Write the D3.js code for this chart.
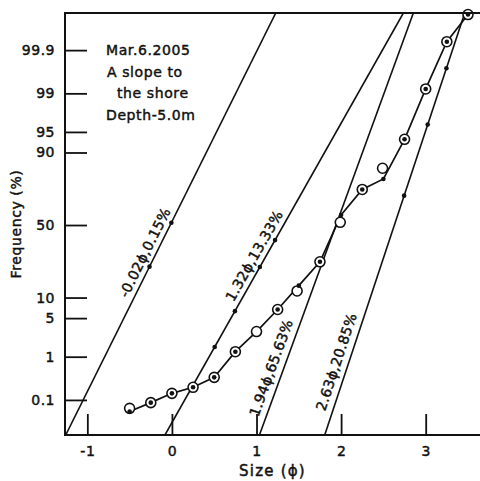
<!DOCTYPE html>
<html>
<head>
<meta charset="utf-8">
<script src="https://cdn.jsdelivr.net/npm/d3@7"></script>
<style>
  html, body { margin: 0; padding: 0; background: #fff; }
  svg { display: block; }
  text { font-family: "DejaVu Sans", sans-serif; fill: #111; stroke: #111; stroke-width: 0.45px; }
</style>
</head>
<body>
<svg id="chart" width="480" height="481"></svg>
<script>
// Cumulative grain-size curve on probability paper, with fitted sub-populations.

// axis ticks
const xTicks = [-1, 0, 1, 2, 3];
const yTicks = [0.1, 1, 5, 10, 50, 90, 95, 99, 99.9];
const yTickLabels = ["0.1", "1", "5", "10", "50", "90", "95", "99", "99.9"];

// sample: cumulative frequency (%) at each size class (phi)
const sizePhi = [-0.5, -0.25, 0, 0.25, 0.5, 0.75, 1, 1.25, 1.5, 1.75, 2, 2.25, 2.5, 2.75, 3, 3.25, 3.5];
const cumFreq = [0.049, 0.085, 0.147, 0.207, 0.356, 1.26, 2.99, 6.78, 14.2, 25.8, 57.0, 73.5, 79.2, 93.5, 99.19, 99.94, 99.99];
const hiddenDotPhi = [1];

// circled readings
const circlePhi = [-0.5, -0.25, 0, 0.25, 0.5, 0.75, 1, 1.25, 1.48, 1.75, 1.99, 2.25, 2.49, 2.75, 3, 3.25, 3.5];
const circleFreq = [0.060, 0.085, 0.147, 0.207, 0.356, 1.26, 2.99, 6.78, 12.2, 25.8, 51.9, 73.5, 84.2, 93.5, 99.19, 99.94, 99.99];

// fitted sub-populations: mean (phi), standard deviation (phi), share (%)
const popMean = [-0.02, 1.32, 1.94, 2.63];
const popSd = [0.333, 0.378, 0.244, 0.222];
const popShare = ["0.15", "13.33", "65.63", "20.85"];
// frequencies (%) of the points marked along each fitted line
const popPoints = [[51.6, 23.1], [1.56, 6.4, 22.9, 39.5], [], [69.8, 96.2, 99.72]];

// sample notes
const noteLines = ["Mar.6.2005", "A slope to", "the shore", "Depth-5.0m"];

// ---- layout ----
const W = 480, H = 481;
const plot = { left: 65, right: 480, top: 13, bottom: 435 };
const labelAt = [28.5, 26.3, 0.47, 0.65];   // where each line label sits (%)
const labelGap = [10.5, 10.5, 12, 12];       // distance of label from its line
const noteIndent = [0, 1, 11, 0];

// inverse standard normal CDF (Acklam)
function probit(p) {
  const a = [-3.969683028665376e+01, 2.209460984245205e+02, -2.759285104469687e+02, 1.383577518672690e+02, -3.066479806614716e+01, 2.506628277459239e+00];
  const b = [-5.447609879822406e+01, 1.615858368580409e+02, -1.556989798598866e+02, 6.680131188771972e+01, -1.328068155288572e+01];
  const c = [-7.784894002430293e-03, -3.223964580411365e-01, -2.400758277161838e+00, -2.549732539343734e+00, 4.374664141464968e+00, 2.938163982698783e+00];
  const d = [7.784695709041462e-03, 3.224671290700398e-01, 2.445134137142996e+00, 3.754408661907416e+00];
  const pl = 0.02425, ph = 1 - pl;
  let q, r;
  if (p < pl) {
    q = Math.sqrt(-2 * Math.log(p));
    return (((((c[0]*q+c[1])*q+c[2])*q+c[3])*q+c[4])*q+c[5]) / ((((d[0]*q+d[1])*q+d[2])*q+d[3])*q+1);
  }
  if (p <= ph) {
    q = p - 0.5; r = q * q;
    return (((((a[0]*r+a[1])*r+a[2])*r+a[3])*r+a[4])*r+a[5])*q / (((((b[0]*r+b[1])*r+b[2])*r+b[3])*r+b[4])*r+1);
  }
  q = Math.sqrt(-2 * Math.log(1 - p));
  return -(((((c[0]*q+c[1])*q+c[2])*q+c[3])*q+c[4])*q+c[5]) / ((((d[0]*q+d[1])*q+d[2])*q+d[3])*q+1);
}

const zMin = -3.71, zMax = 3.746;
const x = d3.scaleLinear().domain([-1.264, 3.642]).range([plot.left, plot.right]);
const yz = d3.scaleLinear().domain([zMin, zMax]).range([plot.bottom, plot.top]);
const y = pct => yz(probit(pct / 100));

const svg = d3.select("#chart");

svg.append("defs").append("clipPath").attr("id", "plotClip")
  .append("rect")
  .attr("x", plot.left).attr("y", plot.top)
  .attr("width", plot.right - plot.left).attr("height", plot.bottom - plot.top);

// ---- axes ----
const yAxis = d3.axisLeft(yz)
  .tickValues(yTicks.map(p => probit(p / 100)))
  .tickFormat((d, i) => yTickLabels[i])
  .tickSizeInner(-22).tickSizeOuter(0).tickPadding(10);
const gy = svg.append("g").attr("transform", `translate(${plot.left},0)`).call(yAxis);

const xAxis = d3.axisBottom(x)
  .tickValues(xTicks)
  .tickFormat(d => d < 0 ? "-" + Math.abs(d) : String(d))
  .tickSizeInner(-21).tickSizeOuter(0).tickPadding(11);
const gx = svg.append("g").attr("transform", `translate(0,${plot.bottom})`).call(xAxis);

[gx, gy].forEach(g => {
  g.select(".domain").remove();
  g.attr("font-family", null).attr("font-size", null);
  g.selectAll(".tick line").attr("stroke", "#111").attr("stroke-width", 1.8);
  g.selectAll(".tick text").attr("fill", "#111")
    .style("font-size", "14px").style("letter-spacing", "0.5px");
});

// frame: left, top and bottom edges
const frame = svg.append("g").attr("stroke", "#111").attr("stroke-width", 2).attr("fill", "none");
frame.append("line").attr("x1", plot.left).attr("x2", plot.left).attr("y1", plot.top - 1).attr("y2", plot.bottom + 1);
frame.append("line").attr("x1", plot.left).attr("x2", plot.right).attr("y1", plot.top).attr("y2", plot.top);
frame.append("line").attr("x1", plot.left).attr("x2", plot.right).attr("y1", plot.bottom).attr("y2", plot.bottom);

// axis titles
svg.append("text")
  .attr("x", (plot.left + plot.right) / 2).attr("y", 476)
  .attr("text-anchor", "middle")
  .style("font-size", "15px").style("letter-spacing", "1.2px")
  .text("Size (\u03d5)");

svg.append("text")
  .attr("transform", "translate(16,224) rotate(-90)")
  .attr("text-anchor", "middle").attr("dy", "0.35em")
  .style("font-size", "14px").style("letter-spacing", "0.6px")
  .text("Frequency (%)");

// ---- fitted sub-population lines ----
const fits = svg.append("g").attr("clip-path", "url(#plotClip)");
const lineGen = d3.line().x(d => x(d[0])).y(d => yz(d[1]));

popMean.forEach((m, i) => {
  const s = popSd[i];
  const pts = [[m + s * zMin, zMin], [m + s * zMax, zMax]];
  fits.append("path").attr("d", lineGen(pts))
    .attr("fill", "none").attr("stroke", "#111").attr("stroke-width", 1.6);

  popPoints[i].forEach(p => {
    const z = probit(p / 100);
    fits.append("circle")
      .attr("cx", x(m + s * z)).attr("cy", yz(z)).attr("r", 2.3).attr("fill", "#111");
  });

  // label along the line
  const za = probit(labelAt[i] / 100);
  const px = x(m + s * za), py = yz(za);
  const ang = Math.atan2(yz(zMax) - yz(zMin), x(m + s * zMax) - x(m + s * zMin)) * 180 / Math.PI;
  svg.append("text")
    .attr("transform", `translate(${px},${py}) rotate(${ang})`)
    .attr("x", 0).attr("y", -labelGap[i]).attr("dy", "0.35em")
    .attr("text-anchor", "middle")
    .style("font-size", "14px").style("letter-spacing", "0.3px")
    .text(`${m.toFixed(2)}\u03d5,${popShare[i]}%`);
});

// ---- sample curve ----
const curve = svg.append("g");
const sample = sizePhi.map((p, i) => [p, cumFreq[i]]);
curve.append("path")
  .attr("d", d3.line().x(d => x(d[0])).y(d => y(d[1]))(sample))
  .attr("fill", "none").attr("stroke", "#111").attr("stroke-width", 1.7);

curve.selectAll("circle.ring")
  .data(circlePhi.map((p, i) => [p, circleFreq[i]]))
  .join("circle").attr("class", "ring")
  .attr("cx", d => x(d[0])).attr("cy", d => y(d[1])).attr("r", 5)
  .attr("fill", "#fff").attr("stroke", "#111").attr("stroke-width", 1.6);

curve.selectAll("circle.dot")
  .data(sample.filter(d => !hiddenDotPhi.includes(d[0])))
  .join("circle").attr("class", "dot")
  .attr("cx", d => x(d[0])).attr("cy", d => y(d[1])).attr("r", 2.3)
  .attr("fill", "#111");

// redraw top edge above the last ring
svg.append("line").attr("x1", plot.left).attr("x2", plot.right)
  .attr("y1", plot.top).attr("y2", plot.top)
  .attr("stroke", "#111").attr("stroke-width", 2);

// ---- sample notes ----
const notes = svg.append("g").style("font-size", "14px").style("letter-spacing", "0.6px");
noteLines.forEach((t, i) => {
  notes.append("text").attr("x", 106 + noteIndent[i]).attr("y", 55 + i * 21.7).text(t);
});
</script>
</body>
</html>
